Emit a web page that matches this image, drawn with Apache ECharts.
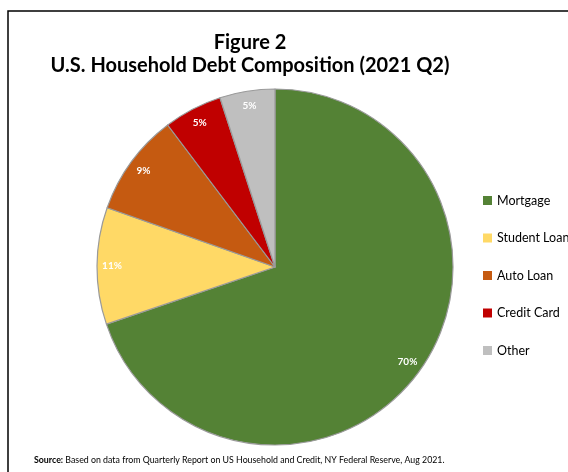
<!DOCTYPE html>
<html><head><meta charset="utf-8">
<script src="https://cdn.jsdelivr.net/npm/echarts@6/dist/echarts.min.js"></script>
<style>html,body{margin:0;padding:0;background:#fff}#c{width:568px;height:472px}</style>
</head><body><div id="c"></div>
<script>
const categories = ['Mortgage', 'Student Loan', 'Auto Loan', 'Credit Card', 'Other'];
const shares = [69.8, 10.6, 9.3, 5.3, 5.0];
const colors = ['#548235', '#FFD966', '#C55A11', '#C00000', '#BFBFBF'];

const chart = echarts.init(document.getElementById('c'));
const font = 'Lato, "Open Sans", sans-serif';
const data = categories.map((n, i) => ({ name: n, value: shares[i], itemStyle: { color: colors[i] } }));
chart.setOption({
  animation: false,
  backgroundColor: '#fff',
  title: {
    text: 'Figure 2\nU.S. Household Debt Composition (2021 Q2)',
    left: 245, textAlign: 'center', top: 26,
    textStyle: { fontFamily: font, fontWeight: 'bold', fontSize: 20, color: '#000', lineHeight: 23 }
  },
  legend: {
    orient: 'vertical', left: 483, top: 194, padding: 0, itemWidth: 9, itemHeight: 9, itemGap: 24.5,
    icon: 'rect', data: categories,
    itemStyle: { borderWidth: 0 },
    textStyle: { fontFamily: font, fontSize: 12.5, color: '#000' }
  },
  graphic: [
    { type: 'rect', shape: { x: 8, y: 11, width: 620, height: 520 }, style: { fill: 'none', stroke: '#000', lineWidth: 1.5 }, silent: true },
    { type: 'text', left: 34, top: 456, style: {
        text: '{b|Source:} Based on data from Quarterly Report on US Household and Credit, NY Federal Reserve, Aug 2021.',
        rich: { b: { fontWeight: 'bold', fontSize: 8.8, fontFamily: font, fill: '#000' } },
        font: '8.8px ' + font, fill: '#000' } }
  ],
  series: [
    {
      type: 'pie', center: [275, 267], radius: [0, 178], startAngle: 90, clockwise: true,
      data: data, label: { show: false }, labelLine: { show: false },
      itemStyle: { borderColor: '#9a9a9a', borderWidth: 1.2 }, silent: true
    },
    {
      type: 'pie', center: [275, 267], radius: [142, 178], startAngle: 90, clockwise: true,
      data: categories.map((n, i) => ({ name: n + ' ', value: shares[i] })),
      itemStyle: { color: 'rgba(0,0,0,0)', borderWidth: 0 },
      label: {
        show: true, position: 'inside', color: '#fff', fontWeight: 'bold', fontSize: 10, fontFamily: font,
        formatter: p => Math.round(p.value) + '%'
      },
      labelLine: { show: false }, silent: true, emphasis: { disabled: true }
    }
  ]
});
</script></body></html>
